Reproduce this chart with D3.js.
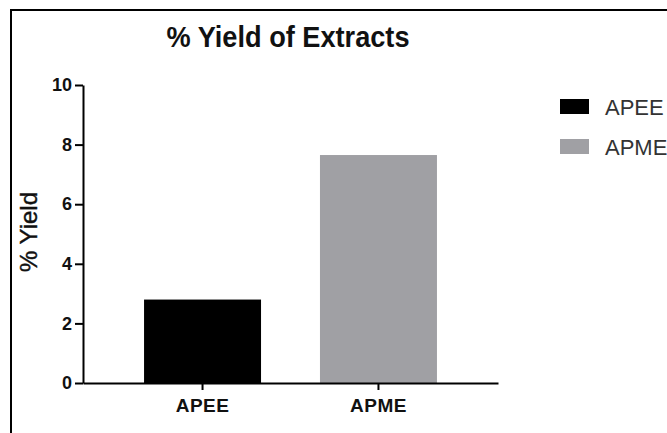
<!DOCTYPE html>
<html>
<head>
<meta charset="utf-8">
<script src="https://cdn.jsdelivr.net/npm/d3@7"></script>
<style>
  body { margin: 0; background: #fff; }
  svg { display: block; }
</style>
</head>
<body>
<div id="chart"></div>
<script>
var categories = ["APEE", "APME"];
var yieldValues = [2.8, 7.65];
var barColors = ["#000000", "#a0a0a4"];
var yTicks = [0, 2, 4, 6, 8, 10];

var svgWidth = 667;
var svgHeight = 433;

var svg = d3.select("#chart")
  .append("svg")
  .attr("width", svgWidth)
  .attr("height", svgHeight);

// frame lines (top and left, as in the original crop)
svg.append("line")
  .attr("x1", 10).attr("x2", svgWidth)
  .attr("y1", 10).attr("y2", 10)
  .attr("stroke", "#000").attr("stroke-width", 2);
svg.append("line")
  .attr("x1", 11).attr("x2", 11)
  .attr("y1", 10).attr("y2", svgHeight)
  .attr("stroke", "#000").attr("stroke-width", 2);

var x0 = 83, x1 = 498, yTop = 85, yBottom = 383;

var xScale = d3.scaleBand()
  .domain(categories)
  .range([x0, x1])
  .paddingInner(0.335)
  .paddingOuter(0.347);

var yScale = d3.scaleLinear()
  .domain([0, 10])
  .range([yBottom, yTop]);

var data = categories.map(function(c, i) {
  return { name: c, value: yieldValues[i], color: barColors[i] };
});

// bars
svg.selectAll("rect.bar")
  .data(data)
  .enter()
  .append("rect")
  .attr("class", "bar")
  .attr("x", d => xScale(d.name))
  .attr("y", d => yScale(d.value))
  .attr("width", xScale.bandwidth())
  .attr("height", d => yBottom - yScale(d.value))
  .attr("fill", d => d.color);

// y axis
var leftAxis = d3.axisLeft(yScale)
  .tickValues(yTicks)
  .tickSize(8)
  .tickPadding(3)
  .tickSizeOuter(0);
var yAxisG = svg.append("g")
  .attr("transform", `translate(${x0}, 0)`)
  .call(leftAxis);
yAxisG.select(".domain").attr("stroke-width", 2);
yAxisG.selectAll(".tick line").attr("stroke-width", 2);
yAxisG.selectAll("text")
  .attr("font-family", "Liberation Sans, Arial, sans-serif")
  .attr("font-weight", "bold")
  .attr("font-size", "18px")
  .attr("fill", "#111");

// x axis
var bottomAxis = d3.axisBottom(xScale)
  .tickSize(7)
  .tickPadding(9)
  .tickSizeOuter(0);
var xAxisG = svg.append("g")
  .attr("transform", `translate(0, ${yBottom})`)
  .call(bottomAxis);
xAxisG.select(".domain").attr("stroke-width", 2);
xAxisG.selectAll(".tick line").attr("stroke-width", 2);
xAxisG.selectAll("text")
  .attr("font-family", "Liberation Sans, Arial, sans-serif")
  .attr("font-weight", "bold")
  .attr("font-size", "19px")
  .attr("letter-spacing", "0.5px")
  .attr("fill", "#111");

// title
svg.append("text")
  .attr("x", 288)
  .attr("y", 47)
  .attr("text-anchor", "middle")
  .attr("font-family", "Liberation Sans Narrow, Arial Narrow, sans-serif")
  .attr("font-weight", "bold")
  .attr("font-size", "29px")
  .attr("fill", "#111")
  .attr("textLength", 243)
  .attr("lengthAdjust", "spacingAndGlyphs")
  .text("% Yield of Extracts");

// y axis label
svg.append("text")
  .attr("transform", "translate(37, 232) rotate(-90)")
  .attr("text-anchor", "middle")
  .attr("font-family", "Liberation Sans, Arial, sans-serif")
  .attr("font-size", "24px")
  .attr("fill", "#111")
  .attr("stroke", "#111")
  .attr("stroke-width", 0.4)
  .text("% Yield");

// legend
var legend = svg.selectAll("g.legend")
  .data(data)
  .enter()
  .append("g")
  .attr("class", "legend")
  .attr("transform", (d, i) => `translate(560, ${99 + i * 40})`);
legend.append("rect")
  .attr("width", 29)
  .attr("height", 15)
  .attr("fill", d => d.color);
legend.append("text")
  .attr("x", 45)
  .attr("y", 16)
  .attr("font-family", "Liberation Sans Narrow, Arial Narrow, sans-serif")
  .attr("font-size", "22px")
  .attr("fill", "#333")
  .text(d => d.name);
</script>
</body>
</html>
